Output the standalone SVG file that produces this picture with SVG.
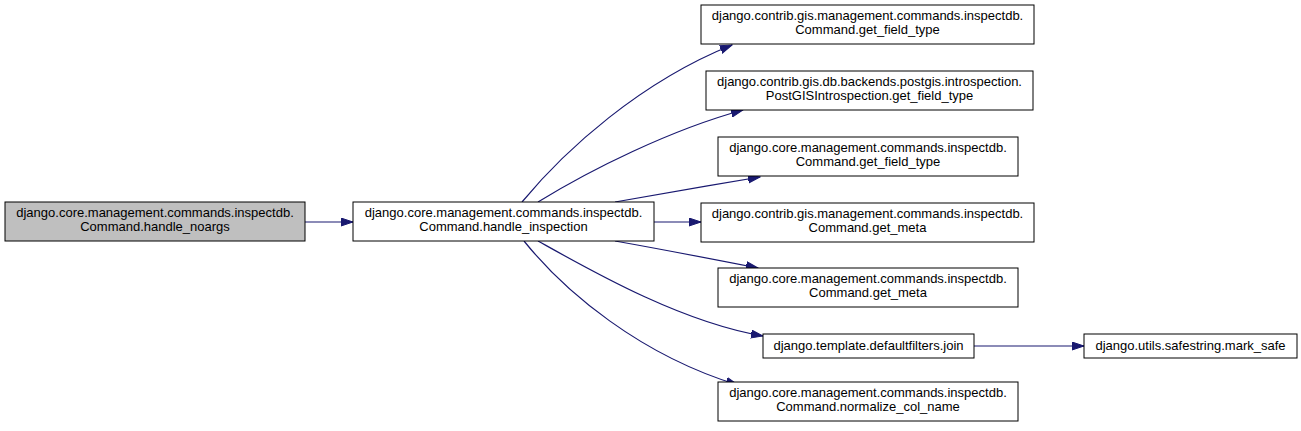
<svg xmlns="http://www.w3.org/2000/svg" width="1301" height="431" viewBox="0 0 1301 431">
<style>
.n rect{fill:#ffffff;stroke:#000000;stroke-width:1}
.n.root rect{fill:#bfbfbf}
.n text{font-family:"Liberation Sans",Arial,sans-serif;font-size:13px;fill:#000000;text-anchor:middle}
.e path{fill:none;stroke:#191970;stroke-width:1.2;marker-end:url(#ah)}
</style>
<defs>
<marker id="ah" markerUnits="userSpaceOnUse" markerWidth="13" markerHeight="10" refX="12" refY="4.5" orient="auto">
<path d="M0,0.5 L12,4.5 L0,8.5 z" fill="#191970" stroke="#191970" stroke-width="1"/>
</marker>
</defs>
<rect width="1301" height="431" fill="#ffffff"/>
<g id="edges" class="e">
<path d="M305,222 L353,222"/>
<path d="M522,202 C565,150 640,82 732,45"/>
<path d="M538,202 C590,170 670,130 743,110"/>
<path d="M615,202 C660,194 712,185 760,177"/>
<path d="M654,222 L701,222"/>
<path d="M615,241 C660,249 712,259 758,268"/>
<path d="M538,241 C590,270 680,322 763,336"/>
<path d="M524,241 C565,292 640,355 738,385"/>
<path d="M974,346 L1084,346"/>
</g>
<g id="node_handle_noargs" class="n root">
<rect x="5" y="202" width="300" height="39"/>
<text x="155" y="217">django.core.management.commands.inspectdb.</text>
<text x="155" y="231">Command.handle_noargs</text>
</g>
<g id="node_handle_inspection" class="n">
<rect x="353" y="202" width="301" height="39"/>
<text x="503.5" y="217">django.core.management.commands.inspectdb.</text>
<text x="503.5" y="231">Command.handle_inspection</text>
</g>
<g id="node_gis_get_field_type" class="n">
<rect x="701" y="5" width="333" height="39"/>
<text x="867.5" y="20">django.contrib.gis.management.commands.inspectdb.</text>
<text x="867.5" y="34">Command.get_field_type</text>
</g>
<g id="node_postgis_get_field_type" class="n">
<rect x="706" y="71" width="327" height="39"/>
<text x="869.5" y="86">django.contrib.gis.db.backends.postgis.introspection.</text>
<text x="869.5" y="100">PostGISIntrospection.get_field_type</text>
</g>
<g id="node_core_get_field_type" class="n">
<rect x="718" y="137" width="300" height="39"/>
<text x="868" y="152">django.core.management.commands.inspectdb.</text>
<text x="868" y="166">Command.get_field_type</text>
</g>
<g id="node_gis_get_meta" class="n">
<rect x="701" y="203" width="333" height="39"/>
<text x="867.5" y="218">django.contrib.gis.management.commands.inspectdb.</text>
<text x="867.5" y="232">Command.get_meta</text>
</g>
<g id="node_core_get_meta" class="n">
<rect x="718" y="268" width="300" height="39"/>
<text x="868" y="283">django.core.management.commands.inspectdb.</text>
<text x="868" y="297">Command.get_meta</text>
</g>
<g id="node_join" class="n">
<rect x="763" y="334" width="211" height="24"/>
<text x="868.5" y="350">django.template.defaultfilters.join</text>
</g>
<g id="node_mark_safe" class="n">
<rect x="1084" y="334" width="213" height="24"/>
<text x="1190.5" y="350">django.utils.safestring.mark_safe</text>
</g>
<g id="node_normalize_col_name" class="n">
<rect x="718" y="382" width="300" height="39"/>
<text x="868" y="397">django.core.management.commands.inspectdb.</text>
<text x="868" y="411">Command.normalize_col_name</text>
</g>
</svg>
